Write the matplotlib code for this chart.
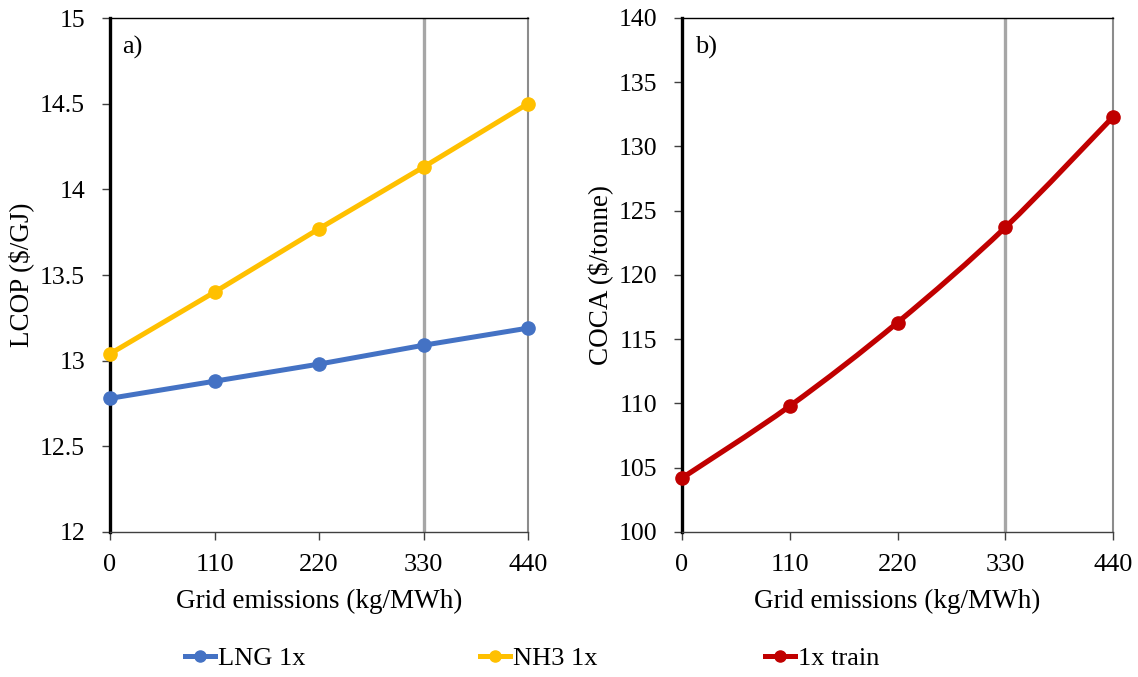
import matplotlib
matplotlib.use('Agg')
import matplotlib.pyplot as plt
from matplotlib.path import Path
from matplotlib.patches import PathPatch
from matplotlib.lines import Line2D
import numpy as np

plt.rcParams['font.family'] = 'Liberation Serif'

# Grid emission cases (kg/MWh)
grid_emissions = [0, 110, 220, 330, 440]
grid_labels = ['0', '110', '220', '330', '440']

# a) levelised cost of product ($/GJ)
lcop_lng = [12.78, 12.88, 12.98, 13.09, 13.19]
lcop_nh3 = [13.04, 13.40, 13.77, 14.13, 14.50]

# b) cost of CO2 avoided ($/tonne)
coca_train = [104.2, 109.8, 116.3, 123.7, 132.3]

blue = '#4472C4'
yellow = '#FFC000'
red = '#C00000'
ref_line = 330


def smooth_path(x, y):
    # Catmull-Rom segments as cubic Bezier curves (Excel-style smoothed line)
    x = np.asarray(x, float)
    y = np.asarray(y, float)
    pts = np.column_stack([x, y])
    verts = [pts[0]]
    codes = [Path.MOVETO]
    n = len(pts)
    for i in range(n - 1):
        p0 = pts[i - 1] if i > 0 else pts[i]
        p1 = pts[i]
        p2 = pts[i + 1]
        p3 = pts[i + 2] if i + 2 < n else pts[i + 1]
        c1 = p1 + (p2 - p0) / 6.0
        c2 = p2 - (p3 - p1) / 6.0
        verts += [c1, c2, p2]
        codes += [Path.CURVE4] * 3
    return Path(verts, codes)


def style_axes(ax):
    ax.set_xlim(0, 440)
    ax.set_xticks(grid_emissions)
    ax.set_xticklabels(grid_labels)
    ax.axvline(ref_line, color='#A6A6A6', lw=2.4, zorder=1)
    ax.spines['left'].set_linewidth(2.4)
    ax.spines['left'].set_color('black')
    ax.spines['top'].set_linewidth(1.0)
    ax.spines['top'].set_color('black')
    ax.spines['right'].set_linewidth(1.5)
    ax.spines['right'].set_color('#8C8C8C')
    ax.spines['bottom'].set_linewidth(1.0)
    ax.spines['bottom'].set_color('#404040')
    ax.tick_params(axis='both', direction='out', length=6, width=1.0,
                   color='#404040', labelsize=19)
    ax.tick_params(axis='x', pad=10)
    ax.tick_params(axis='y', pad=12, labelsize=18.5)
    ax.set_xlabel('Grid emissions (kg/MWh)', fontsize=19.5, labelpad=9)


fig = plt.figure(figsize=(11.38, 6.77), dpi=100)
ax1 = fig.add_axes([110 / 1138, 1 - 532 / 677, 418 / 1138, 514 / 677])
ax2 = fig.add_axes([682 / 1138, 1 - 532 / 677, 431 / 1138, 514 / 677])

# Panel a
ax1.plot(grid_emissions, lcop_lng, color=blue, lw=3.6, marker='o', ms=9.5,
         clip_on=False, zorder=3)
ax1.plot(grid_emissions, lcop_nh3, color=yellow, lw=3.6, marker='o', ms=9.5,
         clip_on=False, zorder=3)
ax1.set_ylim(12, 15)
ax1.set_yticks([12, 12.5, 13, 13.5, 14, 14.5, 15])
ax1.set_yticklabels(['12', '12.5', '13', '13.5', '14', '14.5', '15'])
style_axes(ax1)
ax1.set_ylabel('LCOP ($/GJ)', fontsize=19.5, labelpad=4)
ax1.text(0.03, 0.965, 'a)', transform=ax1.transAxes, fontsize=19,
         va='top', ha='left')

# Panel b
ax2.add_patch(PathPatch(smooth_path(grid_emissions, coca_train), fill=False,
                        edgecolor=red, lw=3.8, zorder=3, clip_on=False,
                        capstyle='round'))
ax2.plot(grid_emissions, coca_train, color=red, lw=0, marker='o', ms=9.5,
         clip_on=False, zorder=4)
ax2.set_ylim(100, 140)
ax2.set_yticks(range(100, 141, 5))
style_axes(ax2)
ax2.set_ylabel('COCA ($/tonne)', fontsize=19.5, labelpad=4)
ax2.text(0.03, 0.965, 'b)', transform=ax2.transAxes, fontsize=19,
         va='top', ha='left')

# Legend entries along the bottom of the figure
legend_items = [('LNG 1x', blue, 185), ('NH3 1x', yellow, 480),
                ('1x train', red, 765)]
for label, color, xpix in legend_items:
    handle = Line2D([], [], color=color, lw=3.6, marker='o', ms=8)
    fig.legend([handle], [label], loc='center left',
               bbox_to_anchor=(xpix / 1138, 1 - 658 / 677), frameon=False,
               fontsize=19, handlelength=1.15, handletextpad=0.1,
               borderpad=0, borderaxespad=0)

fig.savefig('out.png', dpi=100)
